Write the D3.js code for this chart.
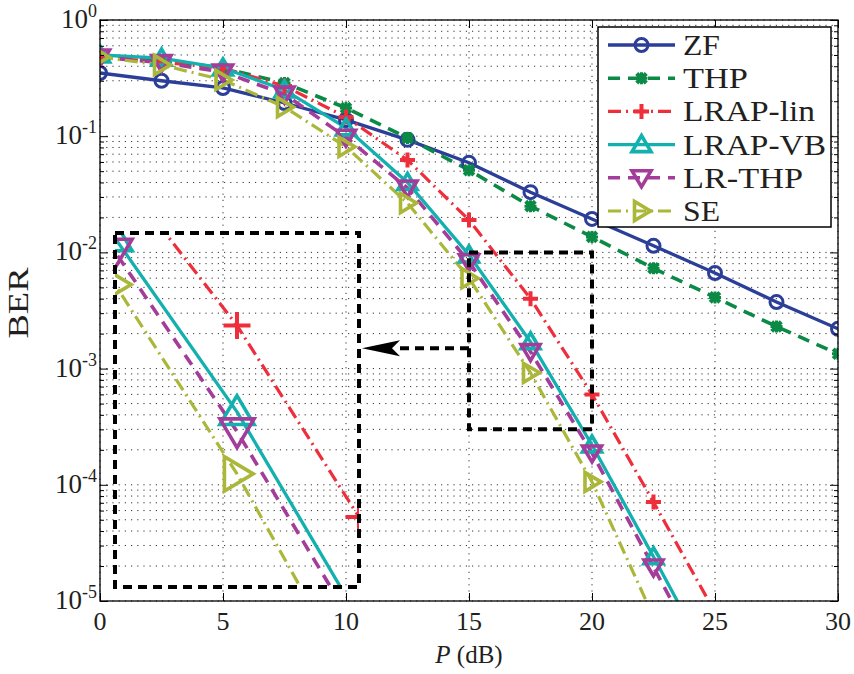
<!DOCTYPE html>
<html><head><meta charset="utf-8">
<script src="https://cdn.jsdelivr.net/npm/d3@7"></script>
<style>
html,body{margin:0;padding:0;background:#fff;}
svg{display:block;font-family:"Liberation Serif","Times New Roman",serif;}
</style></head>
<body><svg id="chart" width="854" height="674"></svg>
<script>
// ---------------- data ----------------
const P = [0, 2.5, 5, 7.5, 10, 12.5, 15, 17.5, 20, 22.5, 25, 27.5, 30];
const berZF      = [0.35, 0.30, 0.26, 0.193, 0.138, 0.093, 0.059, 0.033, 0.0194, 0.0114, 0.00665, 0.00374, 0.0022];
const berTHP     = [0.48, 0.45, 0.386, 0.287, 0.175, 0.0966, 0.051, 0.025, 0.0136, 0.0073, 0.0041, 0.0023, 0.00134];
const berLRAPlin = [0.48, 0.435, 0.386, 0.27, 0.146, 0.0624, 0.019, 0.004, 0.0006, 7.1e-5, 8e-6];
const berLRAPVB  = [0.50, 0.47, 0.386, 0.25, 0.118, 0.040, 0.0095, 0.0017, 0.00022, 2.4e-5, 2.5e-6];
const berLRTHP   = [0.48, 0.43, 0.357, 0.23, 0.098, 0.0358, 0.0083, 0.0014, 0.000188, 1.96e-5, 2e-6];
const berSE      = [0.48, 0.41, 0.305, 0.178, 0.081, 0.0266, 0.006, 0.00092, 0.000106, 7.3e-6];
const seriesNames = ["ZF", "THP", "LRAP-lin", "LRAP-VB", "LR-THP", "SE"];
const xTicks = [0, 5, 10, 15, 20, 25, 30];
const yExponents = [0, -1, -2, -3, -4, -5];
// zoom box (data coords) and arrow level
const zoomP = [15, 20];
const zoomBER = [3e-4, 1e-2];
const arrowBER = 1.5e-3;

// ---------------- styles ----------------
const styles = [
  {color:"#2c3f98", dash:null,        width:3.3, marker:"circle"},
  {color:"#0b8a46", dash:"12,8",      width:3.6, marker:"star"},
  {color:"#ee2e3b", dash:"13,5,2,5",  width:3.2, marker:"plus"},
  {color:"#12b0ae", dash:null,        width:3.3, marker:"tri-up"},
  {color:"#a43c9a", dash:"12,8",      width:3.6, marker:"tri-down"},
  {color:"#abb739", dash:"13,5,2,5",  width:3.2, marker:"tri-right"}
];
const allSeries = [berZF, berTHP, berLRAPlin, berLRAPVB, berLRTHP, berSE];
const series = seriesNames.map((name, i) => ({
  name, style: styles[i],
  values: allSeries[i].map((v, j) => ({p: P[j], ber: v}))
}));

const svg = d3.select("#chart");
const L = 100, R = 838, T = 20, B = 601;
const x = d3.scaleLinear().domain([0, 30]).range([L, R]);
const y = d3.scaleLog().domain([1e-5, 1]).range([B, T]);

// inset axes (zoomed view)
const IL = 115, IR = 359, IT = 233, IB = 587;
const xi = d3.scaleLinear().domain(zoomP).range([IL, IR]);
const yi = d3.scaleLog().domain(zoomBER).range([IB, IT]);

const defs = svg.append("defs");
defs.append("clipPath").attr("id","clipMain").append("rect")
  .attr("x",L).attr("y",T).attr("width",R-L).attr("height",B-T);
defs.append("clipPath").attr("id","clipInset").append("rect")
  .attr("x",IL).attr("y",IT).attr("width",IR-IL).attr("height",IB-IT);

// ---------------- grid ----------------
const grid = svg.append("g").attr("stroke","#333").attr("stroke-width",1)
  .attr("stroke-dasharray","1.2,5");
xTicks.forEach(t => grid.append("line").attr("x1",x(t)).attr("x2",x(t)).attr("y1",T).attr("y2",B));
const yMinor = [];
for (let e = -5; e < 0; e++) for (let k = 1; k <= 9; k++) yMinor.push(k * Math.pow(10, e));
yMinor.push(1);
yMinor.forEach(v => grid.append("line").attr("x1",L).attr("x2",R).attr("y1",y(v)).attr("y2",y(v)));

// ---------------- markers ----------------
function marker(g, type, cx, cy, s, color) {
  const m = g.append("g").attr("transform", `translate(${cx},${cy})`)
    .attr("fill","none").attr("stroke",color).attr("stroke-linejoin","miter");
  if (type === "circle") {
    m.append("circle").attr("r",6.5*s).attr("stroke-width",3);
  } else if (type === "star") {
    const a = 6*s;
    m.append("path").attr("d",`M${-a*0.8},${-a*0.8}L${a*0.8},${a*0.8}M${-a*0.8},${a*0.8}L${a*0.8},${-a*0.8}`).attr("stroke-width",4.2);
    m.append("path").attr("d",`M${-a},0L${a},0M0,${-a}L0,${a}`).attr("stroke-width",3);
  } else if (type === "plus") {
    const a = 7.5*s;
    m.append("path").attr("d",`M${-a},0L${a},0M0,${-a}L0,${a}`).attr("stroke-width",4);
  } else {
    let pts;
    if (type === "tri-up") pts = [[0,-9],[-9.5,7],[9.5,7]];
    else if (type === "tri-down") pts = [[0,9],[-9.5,-7],[9.5,-7]];
    else pts = [[9,0],[-7,-9.5],[-7,9.5]];
    m.append("path").attr("d","M"+pts.map(p=>[p[0]*s,p[1]*s].join(",")).join("L")+"Z")
      .attr("stroke-width",3.6);
  }
}

function drawSeries(g, xs, ys, ms) {
  series.forEach(sr => {
    const line = d3.line().x(d => xs(d.p)).y(d => ys(d.ber));
    g.append("path").datum(sr.values).attr("d", line)
      .attr("fill","none").attr("stroke",sr.style.color)
      .attr("stroke-width",sr.style.width)
      .attr("stroke-dasharray",sr.style.dash);
  });
  series.forEach(sr => {
    sr.values.forEach(d => marker(g, sr.style.marker, xs(d.p), ys(d.ber), ms, sr.style.color));
  });
}

// main plot
const main = svg.append("g").attr("clip-path","url(#clipMain)");
drawSeries(main, x, y, 1);

// inset
const inset = svg.append("g").attr("clip-path","url(#clipInset)");
drawSeries(inset, xi, yi, 1.8);

// ---------------- zoom boxes and arrow ----------------
const boxes = svg.append("g").attr("fill","none").attr("stroke","#000")
  .attr("stroke-width",4).attr("stroke-dasharray","9,6");
boxes.append("rect").attr("x",x(zoomP[0])).attr("y",y(zoomBER[1]))
  .attr("width",x(zoomP[1])-x(zoomP[0])).attr("height",y(zoomBER[0])-y(zoomBER[1]));
boxes.append("rect").attr("x",IL).attr("y",IT).attr("width",IR-IL).attr("height",IB-IT);
const ay = y(arrowBER);
const tipX = IR + 3;
boxes.append("line").attr("x1",x(zoomP[0])).attr("x2",tipX+32).attr("y1",ay).attr("y2",ay);
svg.append("path").attr("fill","#000")
  .attr("d",`M${tipX},${ay}L${tipX+38},${ay-8}L${tipX+30},${ay}L${tipX+38},${ay+8}Z`);

// ---------------- axes ----------------
const axG = svg.append("g");
axG.append("rect").attr("x",L).attr("y",T).attr("width",R-L).attr("height",B-T)
  .attr("fill","none").attr("stroke","#000").attr("stroke-width",1.3);
const majors = yExponents.map(e => Math.pow(10, e));
function styleAxis(g){ g.select(".domain").remove(); g.selectAll(".tick line").attr("stroke","#000"); g.selectAll("text").remove(); }
axG.append("g").attr("transform",`translate(0,${B})`).call(d3.axisBottom(x).tickValues(xTicks).tickSize(-8)).call(styleAxis);
axG.append("g").attr("transform",`translate(0,${T})`).call(d3.axisTop(x).tickValues(xTicks).tickSize(-8)).call(styleAxis);
axG.append("g").attr("transform",`translate(${L},0)`).call(d3.axisLeft(y).tickValues(majors).tickSize(-8)).call(styleAxis);
axG.append("g").attr("transform",`translate(${R},0)`).call(d3.axisRight(y).tickValues(majors).tickSize(-8)).call(styleAxis);
const minorsOnly = yMinor.filter(v => !majors.some(m => Math.abs(Math.log10(v)-Math.log10(m))<1e-9));
axG.append("g").attr("transform",`translate(${L},0)`).call(d3.axisLeft(y).tickValues(minorsOnly).tickSize(-4)).call(styleAxis);
axG.append("g").attr("transform",`translate(${R},0)`).call(d3.axisRight(y).tickValues(minorsOnly).tickSize(-4)).call(styleAxis);

// tick labels
const txt = svg.append("g").attr("fill","#231f20");
xTicks.forEach(t => txt.append("text").attr("x",x(t)).attr("y",B+29)
  .attr("text-anchor","middle").attr("font-size",26).text(t));
yExponents.forEach(e => {
  const t = txt.append("text").attr("x",L-3).attr("y",y(Math.pow(10,e))+8)
    .attr("text-anchor","end").attr("font-size",27);
  t.append("tspan").text("10");
  t.append("tspan").attr("dy",-11).attr("font-size",18).text(String(e));
});
// axis labels
const xl = txt.append("text").attr("x",(L+R)/2).attr("y",663).attr("text-anchor","middle").attr("font-size",25);
xl.append("tspan").attr("font-style","italic").text("P");
xl.append("tspan").text(" (dB)");
txt.append("text").attr("transform",`translate(28,303) rotate(-90)`).attr("text-anchor","middle")
  .attr("font-size",30).attr("textLength",71).attr("lengthAdjust","spacingAndGlyphs").text("BER");

// ---------------- legend ----------------
const lg = svg.append("g");
lg.append("rect").attr("x",598).attr("y",27).attr("width",233).attr("height",200)
  .attr("fill","#fff").attr("stroke","#000").attr("stroke-width",1.5);
const legendWidths = [37, 65, 132, 143, 120, 37];
series.forEach((sr, i) => {
  const cy = 45 + i * 33.2;
  lg.append("line").attr("x1",608).attr("x2",675).attr("y1",cy).attr("y2",cy)
    .attr("stroke",sr.style.color).attr("stroke-width",sr.style.width)
    .attr("stroke-dasharray",sr.style.dash);
  marker(lg, sr.style.marker, 641.5, cy, 1, sr.style.color);
  lg.append("text").attr("x",683).attr("y",cy+10).attr("font-size",30).attr("fill","#231f20")
    .attr("textLength",legendWidths[i]).attr("lengthAdjust","spacingAndGlyphs").text(sr.name);
});
</script></body></html>
